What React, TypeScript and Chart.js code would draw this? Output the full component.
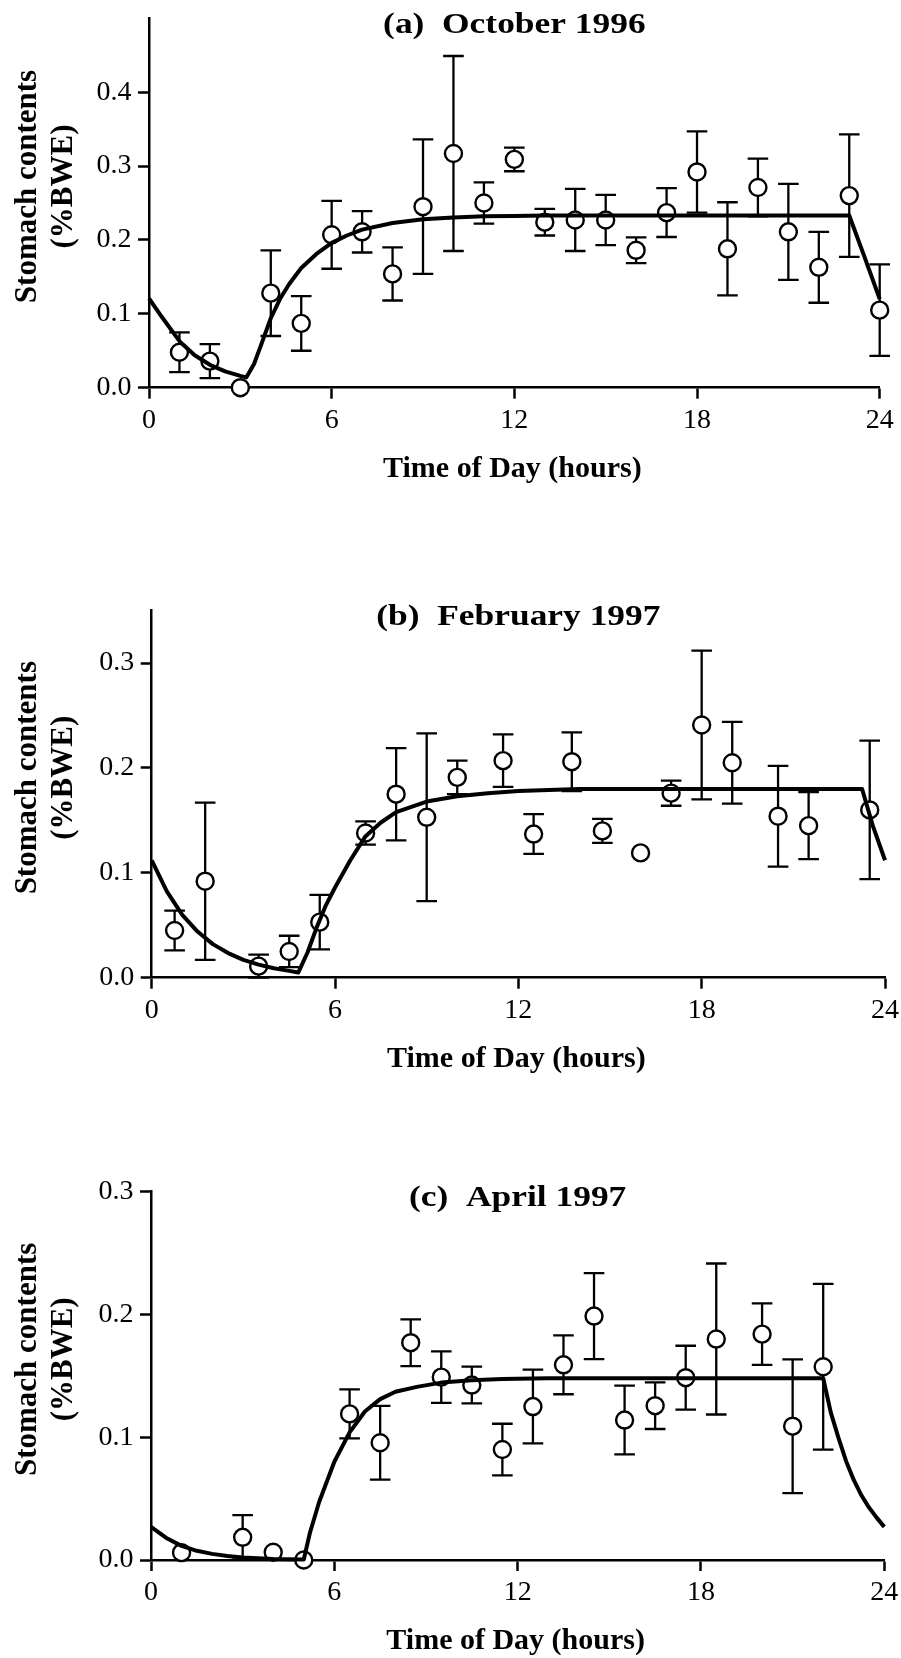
import React, { useEffect, useRef } from "react";
import { Chart, registerables } from "chart.js";

Chart.register(...registerables);

const SERIF = '"Times New Roman", "Liberation Serif", "DejaVu Serif", serif';

// ---------------- data ----------------
const xTickHours = [0, 6, 12, 18, 24];

// (a) October 1996
const hoursA = [1, 2, 3, 4, 5, 6, 7, 8, 9, 10, 11, 12, 13, 14, 15, 16, 17, 18, 19, 20, 21, 22, 23, 24];
const valuesA = [0.048, 0.036, 0.0, 0.128, 0.087, 0.207, 0.211, 0.154, 0.245, 0.317, 0.25, 0.309, 0.224, 0.227, 0.227, 0.186, 0.237, 0.292, 0.188, 0.271, 0.211, 0.163, 0.26, 0.105];
const errorsA = [0.027, 0.023, 0, 0.058, 0.037, 0.046, 0.028, 0.036, 0.091, 0.132, 0.028, 0.016, 0.018, 0.042, 0.034, 0.0175, 0.033, 0.055, 0.063, 0.039, 0.065, 0.048, 0.083, 0.062];
const fitHoursA = [0, 0.4, 1, 1.5, 2, 2.5, 3, 3.2, 3.45, 3.7, 4, 4.3, 4.6, 5, 5.5, 6, 6.5, 7, 8, 9, 10, 11, 12, 13, 23, 23.5, 24];
const fitValuesA = [0.121, 0.097, 0.063, 0.044, 0.031, 0.022, 0.016, 0.014, 0.032, 0.06, 0.094, 0.12, 0.14, 0.162, 0.181, 0.196, 0.206, 0.214, 0.223, 0.228, 0.2305, 0.232, 0.2325, 0.233, 0.233, 0.177, 0.12];
const yTicksA = [0, 0.1, 0.2, 0.3, 0.4];

// (b) February 1997
const hoursB = [0.75, 1.75, 3.5, 4.5, 5.5, 7, 8, 9, 10, 11.5, 12.5, 13.75, 14.75, 16, 17, 18, 19, 20.5, 21.5, 23.5];
const valuesB = [0.045, 0.092, 0.011, 0.025, 0.053, 0.138, 0.175, 0.153, 0.191, 0.207, 0.137, 0.206, 0.14, 0.119, 0.176, 0.241, 0.205, 0.154, 0.145, 0.16];
const errorsB = [0.019, 0.075, 0.011, 0.015, 0.026, 0.011, 0.044, 0.08, 0.016, 0.025, 0.019, 0.028, 0.0115, 0, 0.012, 0.071, 0.039, 0.048, 0.032, 0.066];
const fitHoursB = [0, 0.5, 1, 1.5, 2, 2.5, 3, 3.5, 4, 4.5, 4.8, 5.1, 5.4, 5.7, 6, 6.5, 7, 7.5, 8, 9, 10, 11, 12, 13, 14, 23.25, 23.6, 24];
const fitValuesB = [0.112, 0.082, 0.06, 0.044, 0.032, 0.0235, 0.017, 0.0125, 0.009, 0.0065, 0.005, 0.024, 0.048, 0.069, 0.086, 0.112, 0.135, 0.148, 0.158, 0.168, 0.173, 0.176, 0.178, 0.179, 0.18, 0.18, 0.145, 0.112];
const yTicksB = [0, 0.1, 0.2, 0.3];

// (c) April 1997
const hoursC = [1, 3, 4, 5, 6.5, 7.5, 8.5, 9.5, 10.5, 11.5, 12.5, 13.5, 14.5, 15.5, 16.5, 17.5, 18.5, 20, 21, 22];
const valuesC = [0.006, 0.0185, 0.0063, 0.0, 0.119, 0.0955, 0.177, 0.149, 0.1425, 0.09, 0.125, 0.159, 0.1987, 0.114, 0.1257, 0.1485, 0.18, 0.184, 0.109, 0.1574];
const errorsC = [0, 0.018, 0, 0, 0.02, 0.03, 0.019, 0.021, 0.015, 0.021, 0.03, 0.024, 0.035, 0.028, 0.019, 0.026, 0.0615, 0.025, 0.0545, 0.0675];
const fitHoursC = [0, 0.5, 1, 1.5, 2, 2.5, 3, 4, 5, 5.2, 5.5, 6, 6.5, 7, 7.5, 8, 8.7, 9.5, 10.5, 11.5, 13, 22, 22.25, 22.5, 22.75, 23, 23.25, 23.5, 23.75, 24];
const fitValuesC = [0.027, 0.018, 0.0115, 0.0075, 0.005, 0.0033, 0.0021, 0.0009, 0.0004, 0.022, 0.047, 0.08, 0.104, 0.121, 0.131, 0.137, 0.141, 0.1445, 0.1465, 0.1475, 0.148, 0.148, 0.12, 0.0995, 0.0805, 0.0652, 0.0527, 0.0427, 0.0345, 0.027];
const yTicksC = [0, 0.1, 0.2, 0.3];

const yTitleLines = ["Stomach contents", "(%BWE)"];
const xTitle = "Time of Day (hours)";

type PanelProps = {
  title: string;
  hours: number[];
  values: number[];
  errors: number[];
  fitHours: number[];
  fitValues: number[];
  yMax: number;
  yTicks: number[];
  top: number;
  height: number;
  padTop: number;
  padRight: number;
  yAxisWidth: number;
  xAxisHeight: number;
};

function Panel(p: PanelProps) {
  const ref = useRef<HTMLCanvasElement>(null);

  useEffect(() => {
    const canvas = ref.current!;
    const decor = {
      id: "decor",
      beforeDatasetsDraw(chart: any) {
        const { ctx } = chart;
        const x = chart.scales.x;
        const y = chart.scales.y;
        ctx.save();
        ctx.strokeStyle = "#000";
        ctx.lineWidth = 2.3;
        ctx.lineCap = "butt";
        p.hours.forEach((h, i) => {
          const e = p.errors[i];
          if (!e) return;
          const v = p.values[i];
          const px = x.getPixelForValue(h);
          const yt = y.getPixelForValue(v + e);
          const yb = y.getPixelForValue(Math.max(v - e, 0));
          ctx.beginPath();
          ctx.moveTo(px, yt);
          ctx.lineTo(px, yb);
          ctx.moveTo(px - 10.3, yt);
          ctx.lineTo(px + 10.3, yt);
          ctx.moveTo(px - 10.3, yb);
          ctx.lineTo(px + 10.3, yb);
          ctx.stroke();
        });
        ctx.restore();
      },
      afterDraw(chart: any) {
        const { ctx, chartArea } = chart;
        const cx = (chartArea.left + chartArea.right) / 2;
        ctx.save();
        ctx.fillStyle = "#000";
        // panel title (slightly wide lettering, as in the original)
        ctx.font = `bold 30px ${SERIF}`;
        ctx.textAlign = "center";
        ctx.textBaseline = "middle";
        ctx.save();
        ctx.translate(cx, chartArea.top + 7);
        ctx.scale(1.18, 1);
        ctx.fillText(p.title, 0, 0);
        ctx.restore();
        // x title
        ctx.textBaseline = "alphabetic";
        ctx.fillText(xTitle, cx - 2, chartArea.bottom + 89);
        // y title
        const cy = (chartArea.top + chartArea.bottom) / 2 - 16.5;
        ctx.font = `bold 31px ${SERIF}`;
        const baselines = [36, 71.5];
        yTitleLines.forEach((line, i) => {
          ctx.save();
          ctx.translate(baselines[i], cy);
          ctx.rotate(-Math.PI / 2);
          ctx.textAlign = "center";
          ctx.textBaseline = "alphabetic";
          ctx.fillText(line, 0, 0);
          ctx.restore();
        });
        ctx.restore();
      },
    };

    const tickFont = { family: SERIF, size: 28, weight: "normal" as const };

    const chart = new Chart(canvas, {
      type: "scatter",
      data: {
        datasets: [
          {
            type: "line",
            data: p.fitHours.map((h, i) => ({ x: h, y: p.fitValues[i] })),
            borderColor: "#000",
            borderWidth: 4,
            pointRadius: 0,
            tension: 0,
            fill: false,
            clip: false as any,
            borderJoinStyle: "round",
          } as any,
          {
            type: "scatter",
            data: p.hours.map((h, i) => ({ x: h, y: p.values[i] })),
            pointRadius: 8.5,
            pointBorderWidth: 2.4,
            pointBackgroundColor: "#fff",
            pointBorderColor: "#000",
            clip: false as any,
            showLine: false,
          } as any,
        ],
      },
      options: {
        animation: false,
        responsive: false,
        events: [],
        layout: { padding: { left: 0, top: p.padTop, right: p.padRight, bottom: 0 } },
        plugins: {
          legend: { display: false },
          tooltip: { enabled: false },
          title: { display: false },
        },
        scales: {
          x: {
            type: "linear",
            min: 0,
            max: 24,
            afterBuildTicks: (s: any) => {
              s.ticks = xTickHours.map((v) => ({ value: v }));
            },
            afterFit: (s: any) => {
              s.height = p.xAxisHeight;
              s.paddingLeft = 0;
              s.paddingRight = 0;
            },
            ticks: {
              font: tickFont,
              color: "#000",
              padding: 5,
              maxRotation: 0,
              autoSkip: false,
              callback: (v: any) => String(v),
            },
            grid: {
              drawOnChartArea: false,
              drawTicks: true,
              tickLength: 11,
              tickWidth: 2.5,
              tickColor: "#000",
            },
            border: { display: true, color: "#000", width: 2.5 },
          },
          y: {
            type: "linear",
            min: 0,
            max: p.yMax,
            afterBuildTicks: (s: any) => {
              s.ticks = p.yTicks.map((v) => ({ value: v }));
            },
            afterFit: (s: any) => {
              s.width = p.yAxisWidth;
              s.paddingTop = 0;
              s.paddingBottom = 0;
            },
            ticks: {
              font: tickFont,
              color: "#000",
              padding: 6.5,
              autoSkip: false,
              callback: (v: any) => Number(v).toFixed(1),
            },
            grid: {
              drawOnChartArea: false,
              drawTicks: true,
              tickLength: 11,
              tickWidth: 2.5,
              tickColor: "#000",
            },
            border: { display: true, color: "#000", width: 2.5 },
          },
        },
      } as any,
      plugins: [decor as any],
    });
    return () => chart.destroy();
  }, []);

  return (
    <canvas
      ref={ref}
      width={901}
      height={p.height}
      style={{ position: "absolute", left: 0, top: p.top, width: 901, height: p.height, display: "block" }}
    />
  );
}

export default function App() {
  return (
    <div style={{ position: "absolute", left: 0, top: 0, width: 901, height: 1658, background: "#fff", overflow: "hidden" }}>
      <Panel
        title="(a)  October 1996"
        hours={hoursA}
        values={valuesA}
        errors={errorsA}
        fitHours={fitHoursA}
        fitValues={fitValuesA}
        yMax={0.5}
        yTicks={yTicksA}
        top={0}
        height={510}
        padTop={18.3}
        padRight={21.3}
        yAxisWidth={149}
        xAxisHeight={122.3}
      />
      <Panel
        title="(b)  February 1997"
        hours={hoursB}
        values={valuesB}
        errors={errorsB}
        fitHours={fitHoursB}
        fitValues={fitValuesB}
        yMax={0.35}
        yTicks={yTicksB}
        top={520}
        height={580}
        padTop={90.7}
        padRight={16}
        yAxisWidth={151.7}
        xAxisHeight={122.3}
      />
      <Panel
        title="(c)  April 1997"
        hours={hoursC}
        values={valuesC}
        errors={errorsC}
        fitHours={fitHoursC}
        fitValues={fitValuesC}
        yMax={0.3}
        yTicks={yTicksC}
        top={1100}
        height={558}
        padTop={91.7}
        padRight={16.7}
        yAxisWidth={151}
        xAxisHeight={98}
      />
    </div>
  );
}
